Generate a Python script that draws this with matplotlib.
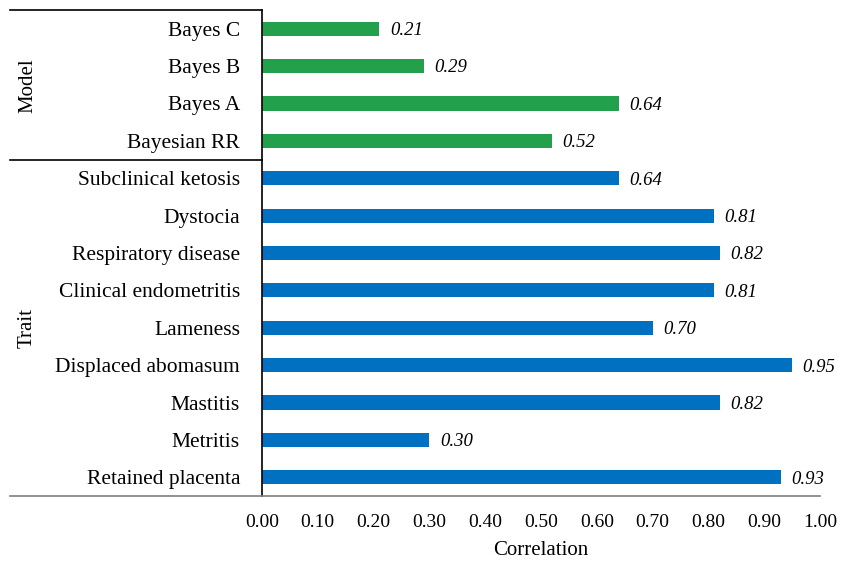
import matplotlib.pyplot as plt
from matplotlib.lines import Line2D

# rows from top to bottom
labels = ["Bayes C", "Bayes B", "Bayes A", "Bayesian RR",
          "Subclinical ketosis", "Dystocia", "Respiratory disease",
          "Clinical endometritis", "Lameness", "Displaced abomasum",
          "Mastitis", "Metritis", "Retained placenta"]
values = [0.21, 0.29, 0.64, 0.52,
          0.64, 0.81, 0.82, 0.81, 0.70, 0.95, 0.82, 0.30, 0.93]
groups = ["Model"] * 4 + ["Trait"] * 9
ticks = [i / 10 for i in range(11)]

plt.rcParams['font.family'] = ['Liberation Serif', 'DejaVu Serif']

W, H = 843, 561
fig = plt.figure(figsize=(W / 100, H / 100), dpi=100)
ax = fig.add_axes([262 / W, 1 - 496 / H, (820 - 262) / W, (496 - 10) / H])

colors = ['#23A04C' if g == "Model" else '#0070C0' for g in groups]
ypos = list(range(len(labels)))
ax.barh(ypos, values, height=0.38, color=colors)
for y, v in zip(ypos, values):
    ax.text(v + 0.019, y + 0.05, f"{v:.2f}", va='center', ha='left',
            fontsize=13.5, style='italic')

ax.set_ylim(len(labels) - 0.5, -0.5)
ax.set_xlim(0, 1)
ax.set_yticks(ypos)
ax.set_yticklabels(labels, fontsize=15.5)
ax.set_xticks(ticks)
ax.set_xticklabels([f"{t:.2f}" for t in ticks], fontsize=14)
ax.tick_params(axis='both', length=0)
ax.tick_params(axis='y', pad=15.8)
ax.tick_params(axis='x', pad=13)
ax.set_xlabel("Correlation", fontsize=15, labelpad=7)

for s in ['top', 'right', 'bottom']:
    ax.spines[s].set_visible(False)
ax.spines['left'].set_color('black')
ax.spines['left'].set_linewidth(1.2)

# group frame lines in figure pixels
def hline(x0, x1, y, color='black', lw=1.2):
    fig.add_artist(Line2D([x0 / W, x1 / W], [1 - y / H, 1 - y / H],
                          color=color, lw=lw, transform=fig.transFigure))

hline(10, 262, 10)
hline(10, 262, 160)
hline(10, 820, 496, color='#7f7f7f', lw=1.2)

fig.text(28 / W, 1 - 86 / H, "Model", rotation=90, ha='center', va='center', fontsize=15)
fig.text(27 / W, 1 - 328 / H, "Trait", rotation=90, ha='center', va='center', fontsize=15)

fig.savefig("out.png", dpi=100)
